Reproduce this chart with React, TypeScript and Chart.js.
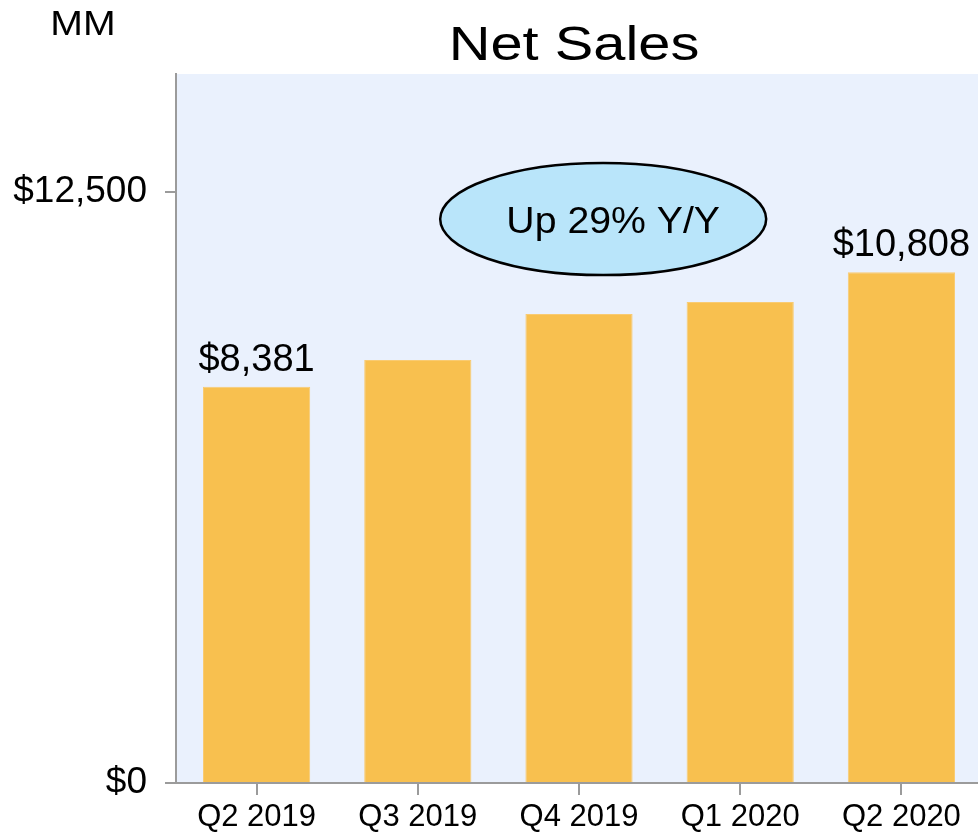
import { useEffect, useRef } from 'react';
import { Chart, registerables } from 'chart.js';

Chart.register(...registerables);

const FONT = '"Liberation Sans", Arial, Helvetica, sans-serif';

// ---- data ----
const categories = ['Q2 2019', 'Q3 2019', 'Q4 2019', 'Q1 2020', 'Q2 2020'];
const netSales = [8381, 8950, 9920, 10175, 10808];
const labelledBars = [0, 4];
const yTickValues = [0, 12500];
const yMin = 0;
const yMax = 15000;
const chartTitle = 'Net Sales';
const unitLabel = 'MM';
const calloutText = 'Up 29% Y/Y';
const calloutCategory = 2.15; // between Q4 2019 and Q1 2020
const calloutValue = 11930;

const fmt = (v: number) => '$' + v.toLocaleString('en-US');

function drawStretched(ctx: CanvasRenderingContext2D, text: string, x: number, y: number, size: number, sx: number) {
  ctx.save();
  ctx.font = `${size}px ${FONT}`;
  ctx.fillStyle = '#000';
  ctx.textAlign = 'center';
  ctx.textBaseline = 'alphabetic';
  ctx.translate(x, y);
  ctx.scale(sx, 1);
  ctx.fillText(text, 0, 0);
  ctx.restore();
}

const decorPlugin = {
  id: 'decor',
  beforeDraw(chart: any) {
    const { ctx, chartArea } = chart;
    ctx.save();
    ctx.fillStyle = '#EAF1FD';
    ctx.fillRect(chartArea.left, chartArea.top, chartArea.right - chartArea.left, chartArea.bottom - chartArea.top);
    ctx.restore();
  },
  afterDatasetsDraw(chart: any) {
    const { ctx } = chart;
    const meta = chart.getDatasetMeta(0);
    // value labels
    ctx.save();
    ctx.font = `38px ${FONT}`;
    ctx.fillStyle = '#000';
    ctx.textAlign = 'center';
    ctx.textBaseline = 'alphabetic';
    labelledBars.forEach((i) => {
      const bar = meta.data[i];
      ctx.fillText(fmt(netSales[i]), bar.x, bar.y - 16);
    });
    ctx.restore();

    // callout ellipse
    const xs = chart.scales.x;
    const ys = chart.scales.y;
    const step = xs.getPixelForValue(1) - xs.getPixelForValue(0);
    const cx = xs.getPixelForValue(0) + step * calloutCategory;
    const cy = ys.getPixelForValue(calloutValue);
    ctx.save();
    ctx.beginPath();
    ctx.ellipse(cx, cy, 163, 56, 0, 0, Math.PI * 2);
    ctx.fillStyle = '#B9E5FA';
    ctx.fill();
    ctx.lineWidth = 2.5;
    ctx.strokeStyle = '#000';
    ctx.stroke();
    ctx.restore();
    drawStretched(ctx, calloutText, cx + 10, cy + 14, 37, 1.06);

    // title and unit label
    drawStretched(ctx, chartTitle, 574, 60, 49, 1.18);
    drawStretched(ctx, unitLabel, 83, 35, 35, 1.12);
  },
};

export default function App() {
  const ref = useRef<HTMLCanvasElement>(null);

  useEffect(() => {
    if (!ref.current) return;
    const axisColor = '#9B9B9B';
    const chart = new Chart(ref.current, {
      type: 'bar',
      data: {
        labels: categories,
        datasets: [
          {
            data: netSales,
            backgroundColor: '#F8C04F',
            borderColor: '#F9CB72',
            borderWidth: 1,
            categoryPercentage: 1,
            barPercentage: 0.665,
          },
        ],
      },
      options: {
        animation: false,
        responsive: false,
        devicePixelRatio: 1,
        layout: { padding: { top: 74, left: 0, right: 0, bottom: 0 } },
        plugins: {
          legend: { display: false },
          tooltip: { enabled: false },
          title: { display: false },
        },
        scales: {
          x: {
            afterFit: (s: any) => {
              s.height = 51;
            },
            grid: {
              offset: false,
              drawOnChartArea: false,
              drawTicks: true,
              tickLength: 12,
              color: axisColor,
              lineWidth: 2,
            },
            border: { display: true, color: axisColor, width: 2 },
            ticks: {
              color: '#000',
              font: { family: FONT, size: 31 },
              padding: 4,
              autoSkip: false,
              maxRotation: 0,
            },
          },
          y: {
            min: yMin,
            max: yMax,
            afterFit: (s: any) => {
              s.width = 176;
            },
            afterBuildTicks: (s: any) => {
              s.ticks = yTickValues.map((v) => ({ value: v }));
            },
            grid: {
              drawOnChartArea: false,
              drawTicks: true,
              tickLength: 11,
              color: axisColor,
              lineWidth: 2,
            },
            border: { display: true, color: axisColor, width: 2 },
            ticks: {
              color: '#000',
              font: { family: FONT, size: 37 },
              padding: 18,
              callback: (v: any) => fmt(Number(v)),
            },
          },
        },
      },
      plugins: [decorPlugin],
    });
    return () => chart.destroy();
  }, []);

  return (
    <div style={{ position: 'fixed', left: 0, top: 0, width: 982, height: 834, background: '#fff' }}>
      <canvas ref={ref} width={982} height={834} style={{ display: 'block' }} />
    </div>
  );
}
